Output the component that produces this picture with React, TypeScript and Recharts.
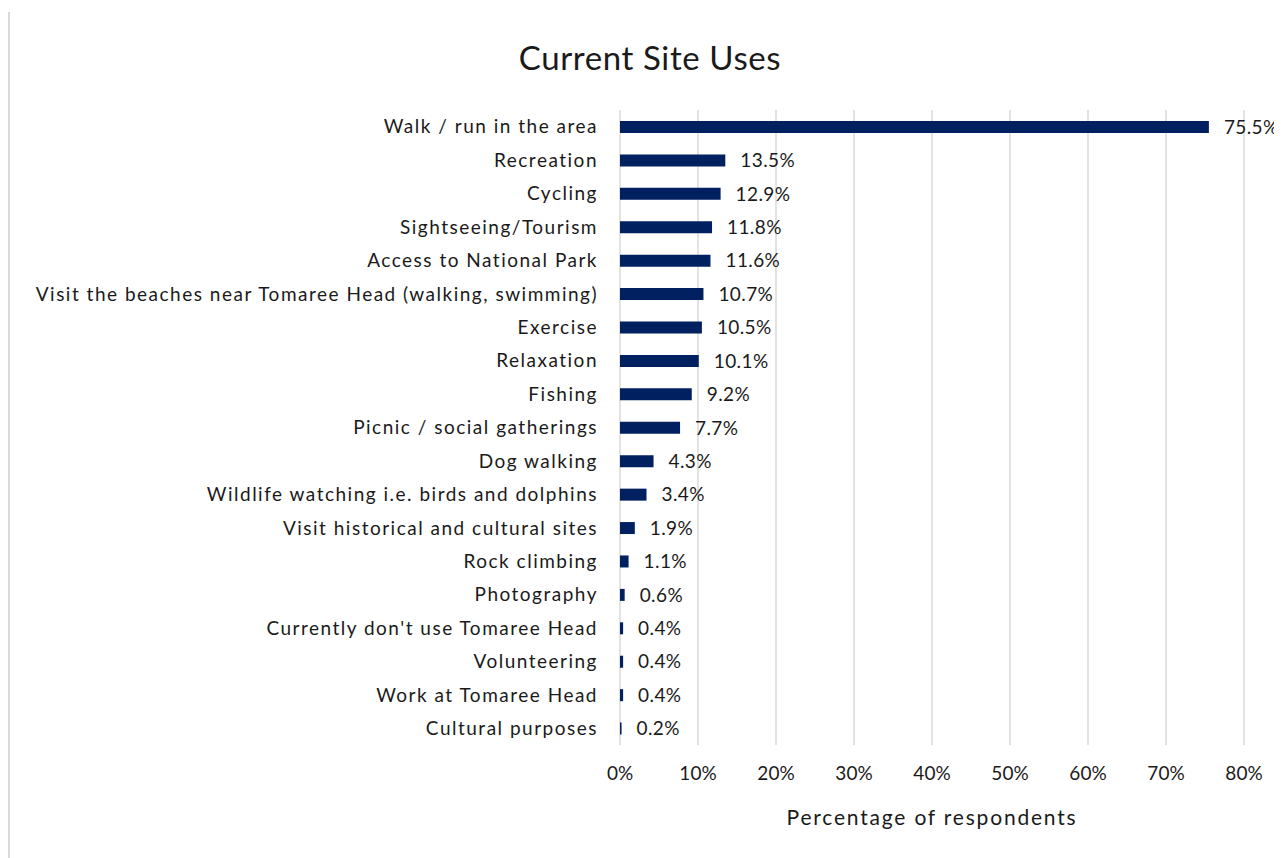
import { BarChart, Bar, XAxis, YAxis, CartesianGrid, LabelList } from 'recharts'

const categories = [
  'Walk / run in the area',
  'Recreation',
  'Cycling',
  'Sightseeing/Tourism',
  'Access to National Park',
  'Visit the beaches near Tomaree Head (walking, swimming)',
  'Exercise',
  'Relaxation',
  'Fishing',
  'Picnic / social gatherings',
  'Dog walking',
  'Wildlife watching i.e. birds and dolphins',
  'Visit historical and cultural sites',
  'Rock climbing',
  'Photography',
  "Currently don't use Tomaree Head",
  'Volunteering',
  'Work at Tomaree Head',
  'Cultural purposes',
]

const shares = [75.5, 13.5, 12.9, 11.8, 11.6, 10.7, 10.5, 10.1, 9.2, 7.7, 4.3, 3.4, 1.9, 1.1, 0.6, 0.4, 0.4, 0.4, 0.2]

const xTicks = [0, 10, 20, 30, 40, 50, 60, 70, 80]

const FONT = 'Lato, "Open Sans", sans-serif'
const TEXT = '#1a1a1a'

export default function App() {
  const data = categories.map((name, i) => ({ name, value: shares[i] }))

  return (
    <div style={{ position: 'relative', width: 1274, height: 850, fontFamily: FONT }}>
      <div style={{ position: 'absolute', left: 0, top: 4, bottom: 0, borderLeft: '2px solid #d9d9d9' }} />
      <div
        style={{
          position: 'absolute', left: 0, width: 1284, top: 29, textAlign: 'center',
          fontSize: 33, color: TEXT, letterSpacing: 0.6,
        }}
      >
        Current Site Uses
      </div>
      <div
        style={{
          position: 'absolute', left: 612 - 300, width: 624 + 600, top: 796, textAlign: 'center',
          fontSize: 21, color: TEXT, letterSpacing: 1.8,
        }}
      >
        Percentage of respondents
      </div>
      <BarChart
        width={1274}
        height={850}
        layout="vertical"
        data={data}
        margin={{ top: 102, right: 38, bottom: 73, left: 0 }}
      >
        <CartesianGrid horizontal={false} stroke="#d9d9d9" strokeWidth={1.5} />
        <XAxis
          type="number"
          domain={[0, 80]}
          ticks={xTicks}
          tickFormatter={(v: number) => `${v}%`}
          axisLine={false}
          tickLine={false}
          tickSize={0}
          tickMargin={22}
          height={40}
          tick={{ fill: TEXT, fontSize: 19, fontFamily: FONT }}
        />
        <YAxis
          type="category"
          dataKey="name"
          width={612}
          axisLine={false}
          tickLine={false}
          tickSize={0}
          tickMargin={22}
          interval={0}
          tick={{ fill: TEXT, fontSize: 19, fontFamily: FONT, letterSpacing: 1.5 }}
        />
        <Bar dataKey="value" fill="#002060" barSize={12} isAnimationActive={false}>
          <LabelList
            dataKey="value"
            position="right"
            offset={15}
            formatter={(v: number) => `${v}%`}
            fill={TEXT}
            fontSize={19}
            fontFamily={FONT}
            letterSpacing={0.4}
          />
        </Bar>
      </BarChart>
    </div>
  )
}
